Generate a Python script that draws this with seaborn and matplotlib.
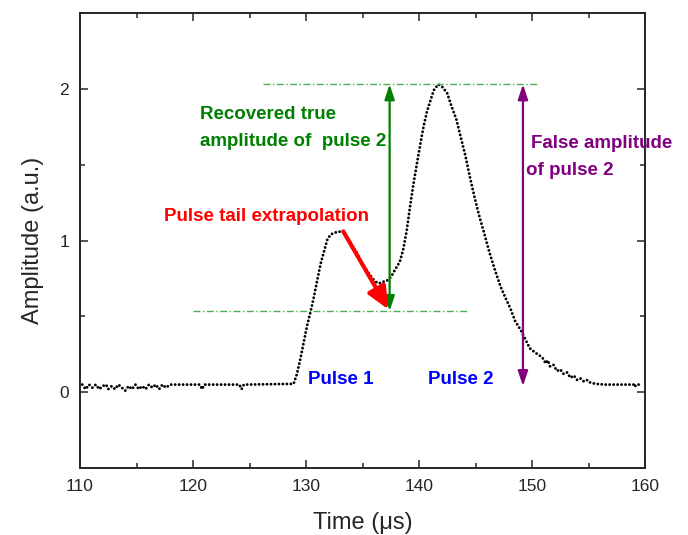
import matplotlib
matplotlib.use("Agg")
import matplotlib.pyplot as plt
import seaborn as sns
from matplotlib.ticker import MultipleLocator

# Waveform (time in us, amplitude in a.u.)
time_us = [
    110.2, 110.5, 110.8, 111.1, 111.4, 111.7, 112.0, 112.3, 112.5, 112.8,
    113.1, 113.4, 113.7, 114.0, 114.3, 114.6, 114.9, 115.2, 115.5, 115.8,
    116.1, 116.4, 116.7, 117.0, 117.3, 117.6, 118.0, 120.6, 120.8, 121.0,
    124.1, 124.3, 124.5, 128.9, 129.2, 129.5, 129.8, 130.1, 130.4, 130.7,
    131.0, 131.3, 131.6, 131.9, 132.2, 132.5, 132.9, 133.3, 133.6, 133.9,
    134.2, 134.5, 134.8, 135.1, 135.4, 135.7, 136.0, 136.3, 136.6, 136.9,
    137.3, 137.6, 137.9, 138.3, 138.6, 138.9, 139.2, 139.5, 139.8, 140.1,
    140.4, 140.7, 141.0, 141.3, 141.7, 142.1, 142.5, 142.9, 143.3, 143.7,
    144.1, 144.5, 144.9, 145.3, 145.8, 146.2, 146.7, 147.2, 147.6, 148.1,
    148.5, 149.0, 149.4, 149.8, 150.3, 150.7, 151.0, 151.2, 151.4, 151.6,
    151.9, 152.2, 152.5, 152.8, 153.1, 153.4, 153.7, 154.0, 154.3, 154.6,
    154.9, 155.1, 155.6, 156.5, 157.5, 158.5, 159.0, 159.1, 159.2, 159.6,
]
amplitude = [
    0.05, 0.02, 0.05, 0.03, 0.05, 0.02, 0.04, 0.05, 0.02, 0.04,
    0.02, 0.05, 0.03, 0.01, 0.04, 0.02, 0.05, 0.02, 0.04, 0.02,
    0.05, 0.03, 0.05, 0.02, 0.05, 0.03, 0.05, 0.05, 0.02, 0.05,
    0.05, 0.02, 0.05, 0.055, 0.12, 0.22, 0.33, 0.44, 0.53, 0.63,
    0.74, 0.85, 0.93, 1.01, 1.04, 1.05, 1.06, 1.05, 1.02, 0.99,
    0.95, 0.92, 0.87, 0.83, 0.80, 0.77, 0.74, 0.72, 0.72, 0.73,
    0.74, 0.77, 0.81, 0.86, 0.94, 1.06, 1.22, 1.37, 1.50, 1.63,
    1.75, 1.85, 1.92, 1.99, 2.03, 2.01, 1.97, 1.88, 1.80, 1.68,
    1.56, 1.42, 1.29, 1.17, 1.04, 0.93, 0.81, 0.70, 0.63, 0.55,
    0.47, 0.41, 0.35, 0.29, 0.26, 0.24, 0.22, 0.19, 0.21, 0.17,
    0.18, 0.14, 0.15, 0.12, 0.13, 0.095, 0.11, 0.08, 0.09, 0.07,
    0.08, 0.065, 0.055, 0.05, 0.05, 0.05, 0.05, 0.035, 0.05, 0.05,
]

# annotation anchors
peak2_level = 2.03
tail_level = 0.535
true_x = 137.4
false_x = 149.2
false_bottom = 0.04
tail_start = (133.3, 1.06)
tail_end = (137.3, 0.545)

sns.set_style("ticks")
plt.rcParams["font.family"] = ["Liberation Sans", "DejaVu Sans"]

fig, ax = plt.subplots(figsize=(6.88, 5.35), dpi=100)
fig.subplots_adjust(left=0.1163, right=0.9375, bottom=0.1252, top=0.9757)

sns.lineplot(x=time_us, y=amplitude, ax=ax, color="black",
             estimator=None, sort=False)
# dotted trace: round dots spaced along the path
wave = ax.lines[0]
wave.set_linewidth(2.1)
wave.set_dashes((0.01, 1.35))
wave.set_dash_capstyle("round")

# dash-dot reference levels
lev_style = dict(color="#4caf50", linewidth=1.0, linestyle=(0, (5, 1.8, 1, 1.8)))
ax.plot([126.2, 150.5], [peak2_level, peak2_level], **lev_style)
ax.plot([120.0, 144.4], [tail_level, tail_level], **lev_style)

# arrows
ax.annotate("", xy=(true_x, peak2_level), xytext=(true_x, tail_level),
            arrowprops=dict(arrowstyle="<|-|>,head_length=0.6,head_width=0.2",
                            mutation_scale=15, color="#008000", lw=1.6,
                            shrinkA=0, shrinkB=0))
ax.annotate("", xy=(false_x, peak2_level), xytext=(false_x, false_bottom),
            arrowprops=dict(arrowstyle="<|-|>,head_length=0.6,head_width=0.2",
                            mutation_scale=15, color="#800080", lw=1.6,
                            shrinkA=0, shrinkB=0))
ax.annotate("", xy=tail_end, xytext=tail_start,
            arrowprops=dict(arrowstyle="-|>,head_length=0.9,head_width=0.4",
                            mutation_scale=15, color="red", lw=3,
                            shrinkA=0, shrinkB=0))

# labels
txt = dict(fontsize=13.5, fontweight="bold", va="center", ha="left")
ax.text(120.6, 1.83, "Recovered true", color="#008000", **txt)
ax.text(120.6, 1.65, "amplitude of  pulse 2", color="#008000", **txt)
ax.text(117.4, 1.16, "Pulse tail extrapolation", color="red", **txt)
ax.text(149.95, 1.64, "False amplitude", color="#800080", clip_on=False, **txt)
ax.text(149.5, 1.46, "of pulse 2", color="#800080", **txt)
ax.text(130.2, 0.085, "Pulse 1", color="blue", **txt)
ax.text(140.8, 0.085, "Pulse 2", color="blue", **txt)

ax.set_xlim(110, 160)
ax.set_ylim(-0.5, 2.5)
ax.xaxis.set_major_locator(MultipleLocator(10))
ax.xaxis.set_minor_locator(MultipleLocator(5))
ax.yaxis.set_major_locator(MultipleLocator(1))
ax.yaxis.set_minor_locator(MultipleLocator(0.5))
ax.tick_params(which="both", direction="in", top=True, right=True, width=1.1,
               labelsize=12.5, pad=8)
ax.tick_params(which="major", length=6)
ax.tick_params(which="minor", length=3.5)
for sp in ax.spines.values():
    sp.set_visible(True)
    sp.set_linewidth(1.4)

ax.set_xlabel("Time (\u03bcs)", fontsize=17, labelpad=13)
ax.set_ylabel("Amplitude (a.u.)", fontsize=17, labelpad=11)

plt.savefig("out.png", dpi=100)
